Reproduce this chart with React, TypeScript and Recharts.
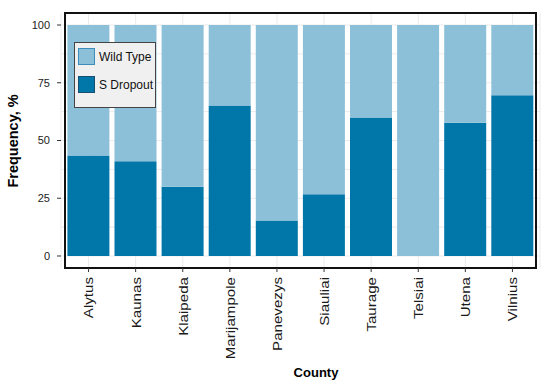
import React from 'react';
import { BarChart, Bar, XAxis, YAxis, CartesianGrid, Legend, ReferenceArea, Label } from 'recharts';

// values (percent of samples per county)
const counties = ['Alytus', 'Kaunas', 'Klaipeda', 'Marijampole', 'Panevezys', 'Siauliai', 'Taurage', 'Telsiai', 'Utena', 'Vilnius'];
const sDropout = [43.5, 41, 30, 65.2, 15.4, 26.7, 60, 0, 57.7, 69.6];
const wildType = [56.5, 59, 70, 34.8, 84.6, 73.3, 40, 100, 42.3, 30.4];
const yTicks = [0, 25, 50, 75, 100];
const gridValues = [0, 12.5, 25, 37.5, 50, 62.5, 75, 87.5, 100];

const data = counties.map((county, i) => ({
  county,
  dropout: sDropout[i],
  wild: wildType[i],
}));

const LIGHT = '#8cc0d9';
const DARK = '#0077a8';
const FONT = 'Liberation Sans, Arial, sans-serif';

const CountyTick = (props: any) => {
  const { x, y, payload } = props;
  return (
    <g transform={`translate(${x},${y})`}>
      <text
        transform="rotate(-90) scale(1.12,1)"
        textAnchor="end"
        dy="0.36em"
        fontSize={13.5}
        fontFamily={FONT}
        fill="#1a1a1a"
      >
        {payload.value}
      </text>
    </g>
  );
};

const renderLegend = (props: any) => {
  const items = [...(props.payload || [])].reverse();
  return (
    <div
      style={{
        background: '#f0f0f0',
        border: '1px solid #444',
        padding: '5px 6px 14px 3px',
        width: 71,
        fontFamily: FONT,
        fontSize: 12,
        color: '#111',
      }}
    >
      {items.map((item: any, i: number) => (
        <div key={item.value} style={{ display: 'flex', alignItems: 'center', marginTop: i === 0 ? 0 : 11 }}>
          <span
            style={{
              display: 'inline-block',
              width: 15,
              height: 15,
              flex: 'none',
              background: item.color,
              border: `1px solid ${item.color === LIGHT ? '#3b8dbb' : '#17506e'}`,
              marginRight: 4,
            }}
          />
          <span style={{ whiteSpace: 'nowrap' }}>{item.value}</span>
        </div>
      ))}
    </div>
  );
};

export default function App() {
  return (
    <div style={{ position: 'absolute', left: 0, top: 0, width: 550, height: 386, background: '#fff' }}>
      <BarChart
        width={550}
        height={386}
        data={data}
        margin={{ top: 13, right: 10, left: 0, bottom: 0 }}
        barCategoryGap={2.4}
      >
        <CartesianGrid stroke="#ebebeb" horizontalValues={gridValues} />
        <XAxis
          dataKey="county"
          interval={0}
          height={118}
          padding={{ left: 4, right: 4 }}
          axisLine={false}
          tickLine={{ stroke: '#333' }}
          tickSize={4}
          tickMargin={5}
          tick={<CountyTick />}
        >
          <Label
            content={() => (
              <text x={316} y={377} textAnchor="middle" fontSize={13} fontWeight="bold" fontFamily={FONT} fill="#000">
                County
              </text>
            )}
          />
        </XAxis>
        <YAxis
          width={61}
          type="number"
          domain={[-5.2, 105.2]}
          allowDataOverflow
          ticks={yTicks}
          axisLine={false}
          tickLine={{ stroke: '#333' }}
          tickSize={4}
          tickMargin={7}
          tick={{ fontSize: 11, fill: '#222', fontFamily: FONT }}
        >
          <Label
            content={() => (
              <text
                x={18}
                y={141}
                transform="rotate(-90, 18, 141)"
                textAnchor="middle"
                fontSize={14.5}
                fontWeight="bold"
                fontFamily={FONT}
                fill="#000"
              >
                Frequency, %
              </text>
            )}
          />
        </YAxis>
        <Legend
          verticalAlign="middle"
          align="center"
          content={renderLegend}
          wrapperStyle={{ position: 'absolute', left: 74, top: 42, width: 'auto', height: 'auto' }}
        />
        <Bar dataKey="dropout" name="S Dropout" stackId="a" fill={DARK} isAnimationActive={false} />
        <Bar dataKey="wild" name="Wild Type" stackId="a" fill={LIGHT} isAnimationActive={false} />
        <ReferenceArea y1={-5.2} y2={105.2} fill="none" stroke="#111" strokeWidth={2} ifOverflow="visible" />
      </BarChart>
    </div>
  );
}
